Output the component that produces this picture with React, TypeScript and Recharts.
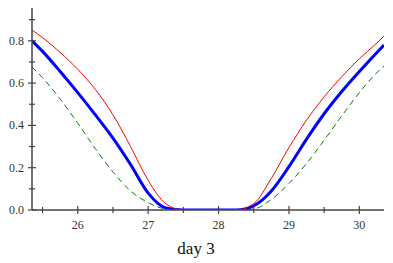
import React from 'react';
import { LineChart, Line, XAxis, YAxis } from 'recharts';

// day positions (x) and the three curves
const DAYS = [25.35, 25.5, 25.75, 26, 26.25, 26.5, 26.75, 27, 27.25, 27.5, 27.75, 28, 28.25, 28.5, 28.75, 29, 29.25, 29.5, 29.75, 30, 30.25, 30.35];
const RED = [0.851, 0.815, 0.745, 0.665, 0.57, 0.45, 0.3, 0.14, 0.03, 0, 0, 0, 0, 0.03, 0.15, 0.295, 0.425, 0.535, 0.63, 0.715, 0.79, 0.822];
const BLUE = [0.8, 0.75, 0.655, 0.555, 0.45, 0.34, 0.215, 0.08, 0.01, 0, 0, 0, 0, 0.02, 0.09, 0.205, 0.335, 0.455, 0.56, 0.655, 0.745, 0.78];
const GREEN = [0.676, 0.625, 0.525, 0.41, 0.29, 0.18, 0.09, 0.035, 0.005, 0, 0, 0, 0, 0.005, 0.05, 0.125, 0.22, 0.33, 0.445, 0.555, 0.65, 0.68];

const X_TICKS = [25.5, 26, 26.5, 27, 27.5, 28, 28.5, 29, 29.5, 30];
const Y_TICKS = [0, 0.1, 0.2, 0.3, 0.4, 0.5, 0.6, 0.7, 0.8, 0.9];

const data = DAYS.map((d, i) => ({ day: d, red: RED[i], blue: BLUE[i], green: GREEN[i] }));

const AXIS = '#444';
const FONT = '"Liberation Serif", "DejaVu Serif", serif';

const XTick = (props: any) => {
  const { x, y, payload } = props;
  const major = Number.isInteger(payload.value);
  const h = major ? 4 : 3;
  return (
    <g>
      <line x1={x} x2={x} y1={y - h} y2={y + h} stroke={AXIS} strokeWidth={1.2} />
      {major && (
        <text x={x} y={y + 19} textAnchor="middle" style={{ fontSize: 12, fontFamily: FONT, fill: '#333' }}>
          {payload.value}
        </text>
      )}
    </g>
  );
};

const YTick = (props: any) => {
  const { x, y, payload } = props;
  const major = Math.round(payload.value * 10) % 2 === 0;
  const w = major ? 4 : 3;
  return (
    <g>
      <line x1={x - w} x2={x + w} y1={y} y2={y} stroke={AXIS} strokeWidth={1.2} />
      {major && (
        <text x={x - 8} y={y + 4} textAnchor="end" style={{ fontSize: 12, fontFamily: FONT, fill: '#333' }}>
          {payload.value.toFixed(1)}
        </text>
      )}
    </g>
  );
};

export default function App() {
  return (
    <div style={{ width: 393, height: 263, background: '#fff' }}>
      <style>{`body{margin:0}`}</style>
      <LineChart width={393} height={263} data={data} margin={{ top: 8, right: 9, bottom: 0, left: 0 }}>
        <XAxis
          dataKey="day"
          type="number"
          domain={[25.35, 30.35]}
          allowDataOverflow
          ticks={X_TICKS}
          interval={0}
          height={53}
          tickSize={0}
          tickMargin={0}
          tickLine={false}
          axisLine={{ stroke: AXIS, strokeWidth: 1.5 }}
          tick={<XTick />}
          label={{
            value: 'day 3',
            position: 'insideBottom',
            offset: 9,
            dx: -12,
            style: { fontSize: 17, fontFamily: FONT, fill: '#111' },
          }}
        />
        <YAxis
          type="number"
          domain={[0, 0.955]}
          allowDataOverflow
          ticks={Y_TICKS}
          interval={0}
          width={32}
          tickSize={0}
          tickMargin={0}
          tickLine={false}
          axisLine={{ stroke: AXIS, strokeWidth: 1.5 }}
          tick={<YTick />}
        />
        <Line type="monotone" dataKey="blue" stroke="#0000ff" strokeWidth={3} dot={false} isAnimationActive={false} />
        <Line type="monotone" dataKey="red" stroke="#ff0000" strokeWidth={1} dot={false} isAnimationActive={false} />
        <Line type="monotone" dataKey="green" stroke="#008000" strokeWidth={1} strokeDasharray="6 4" dot={false} isAnimationActive={false} />
      </LineChart>
    </div>
  );
}
